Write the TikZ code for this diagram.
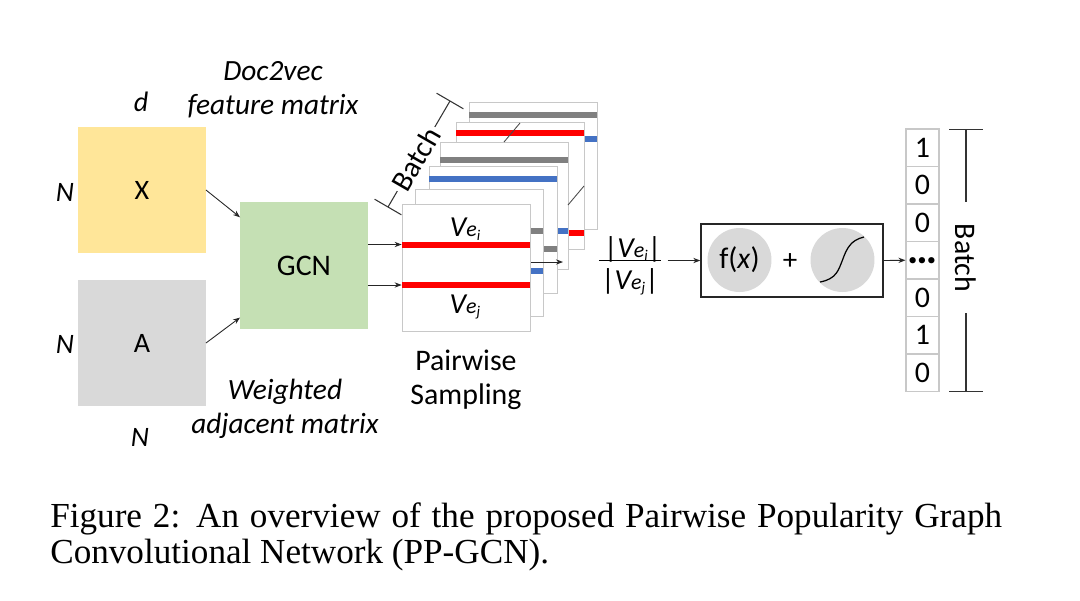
\documentclass[tikz,border=0pt]{standalone}
\usepackage{fontspec}
\setmainfont{Liberation Serif}
\setsansfont{Carlito}
\usetikzlibrary{positioning,arrows.meta,calc}

\definecolor{xfill}{HTML}{FFE699}
\definecolor{afill}{HTML}{D9D9D9}
\definecolor{gcnfill}{HTML}{C5E0B4}
\definecolor{barred}{HTML}{FF0000}
\definecolor{barblue}{HTML}{4472C4}
\definecolor{bargray}{HTML}{808080}
\definecolor{cardline}{HTML}{C8C8C8}

\newcommand\fs[1]{\fontsize{#1}{#1}\selectfont}
\newcommand\vsub[1]{\textit{V\fs{12.5}e\raisebox{-0.35ex}{\fs{8.5}#1}}}
\newcommand\celldots{\fs{24}\bfseries\symbol{"2026}}

\tikzset{
  x=0.02cm, y=-0.02cm,
  mat/.style={minimum width=2.56cm, minimum height=2.54cm, inner sep=0pt, outer sep=0pt, font=\sffamily\fs{16}},
  card/.style={draw=cardline, fill=white, line width=0.6pt, minimum width=2.56cm, minimum height=2.54cm, inner sep=0pt, anchor=north west},
  bar/.style={minimum width=2.56cm, minimum height=0.12cm, inner sep=0pt},
  lbl/.style={font=\sffamily\fs{16}, inner sep=0pt},
  ital/.style={font=\sffamily\itshape\fontsize{16.7}{19.3}\selectfont, align=center, inner sep=0pt},
  arr/.style={-{Stealth[length=4pt,width=3pt]}, line width=0.5pt, black!85},
  brk/.style={line width=0.6pt, black!80},
  ball/.style={circle, fill=afill, minimum size=1.28cm, inner sep=0pt},
  cell/.style={draw=cardline, line width=0.6pt, minimum width=0.66cm, minimum height=0.75cm, inner sep=0pt, font=\sffamily\fs{17}},
}

\begin{document}
\begin{tikzpicture}
\useasboundingbox[fill=white] (0,0) rectangle (1080,600);

% inputs
\node[mat, fill=xfill] (X) at (142,190) {X};
\node[mat, fill=afill] (A) at (142,343) {A};
\node[mat, fill=gcnfill, font=\sffamily\fs{17}] (GCN) at (304,265.5) {GCN};
\node[lbl, font=\sffamily\itshape\fs{16}] (nx) at (65,192) {N};
\node[lbl, font=\sffamily\itshape\fs{16}] (na) at (65,344) {N};
\node[lbl, font=\sffamily\itshape\fs{16}] (dx) at (141,102) {d};
\node[lbl, font=\sffamily\itshape\fs{16}] (nb) at (140,437) {N};
\node[ital] (doclbl) at (273,90) {Doc2vec\\feature matrix};
\node[ital] (adjlbl) at (285,408.5) {Weighted\\adjacent matrix};

\draw[arr] (X.east) -- ($(GCN.north west)!0.12!(GCN.south west)$);
\draw[arr] (A.east) -- ($(GCN.north west)!0.91!(GCN.south west)$);

% pairwise samples, back to front
\foreach \cx/\cy/\ca/\ya/\cb/\yb [count=\i] in {469/102/bargray/115/barblue/139,
    456/122/barred/133/barred/233, 440/142/bargray/160/barblue/231,
    429/166/barblue/179/bargray/249, 415/189/bargray/231/barblue/271}
{
  \node[card] (back\i) at (\cx,\cy) {};
  \fill[\ca] (\cx,\ya-3) rectangle +(128,6);
  \fill[\cb] (\cx,\yb-3) rectangle +(128,6);
}
\node[card] (front) at (402,204) {};
\node[bar, fill=barred] (vi) at (466,244.5) {};
\node[bar, fill=barred] (vj) at (466,285) {};
\node[lbl, font=\sffamily\fs{16.5}] (vilbl) at (465,229) {\vsub{i}};
\node[lbl, font=\sffamily\fs{16.5}] (vjlbl) at (465,307) {\vsub{j}};
\draw[black!70, line width=0.5pt] (520,123) -- (504,142);
\draw[black!70, line width=0.5pt] (584,186) -- (568,205);
\node[ital, font=\sffamily\fontsize{17}{19.3}\selectfont] (pslbl) at (466,380) {Pairwise\\Sampling};

\draw[arr] (GCN.east |- vi) -- (vi.west);
\draw[arr] (GCN.east |- vj) -- (vj.west);
\coordinate (pairout) at (563,262);
\draw[arr] (front.east |- pairout) -- (pairout);

% batch bracket on the samples
\coordinate (bl) at (388,207);
\coordinate (bt) at (450,101);
\draw[brk] (374.6,199.2) -- (401.4,214.8);
\draw[brk] (436.6,93.2) -- (463.4,108.8);
\draw[brk] (bl) -- ($(bl)!0.15!(bt)$);
\draw[brk] ($(bl)!0.755!(bt)$) -- (bt);
\node[lbl, font=\sffamily\fs{17}, rotate=60] (batchl) at ($(bl)!0.45!(bt)$) {Batch};

% ratio and classifier
\node[lbl, font=\sffamily\fs{16.5}] (ratio) at (630,267)
  {\begin{tabular}{@{}c@{}}\hspace{3pt}|\vsub{i}|\hspace{3pt}\\[-3pt]\hline\rule{0pt}{16pt}|\vsub{j}|\end{tabular}};
\node[draw=black!85, line width=0.8pt, minimum width=3.64cm, minimum height=1.46cm, inner sep=0pt] (fbox) at (792,260.5) {};
\node[ball, font=\sffamily\fs{17}] (fx) at (739.5,260) {f(\textit{x})};
\node[lbl, font=\sffamily\fs{16.5}] (plus) at (790,262) {+};
\node[ball] (sig) at (842.5,260) {};
\draw[line width=0.7pt] ([shift={(-22.5,22)}]sig.center) .. controls ([shift={(-6,19)}]sig.center) and ([shift={(-4,10)}]sig.center) .. (sig.center)
  .. controls ([shift={(4,-11)}]sig.center) and ([shift={(8,-20)}]sig.center) .. ([shift={(21.5,-23)}]sig.center);
\draw[arr] ($(ratio.east |- fbox.west)+(6,0)$) -- (fbox.west);

% output labels
\foreach \v [count=\k] in {1,0,0,\celldots,0,1,0}
  \node[cell] (c\k) at (922.5,{129+37.5*(\k-0.5)}) {\v};
\draw[arr] (fbox.east) -- (c4.west);

% batch bracket on the labels
\draw[brk] (949,129.5) -- (983,129.5);
\draw[brk] (949,391.5) -- (983,391.5);
\draw[brk] (966,129.5) -- (966,202);
\draw[brk] (966,313) -- (966,391.5);
\node[lbl, font=\sffamily\fs{17}, rotate=-90] (batchr) at (966,258) {Batch};

% caption
\node[anchor=base west, inner sep=0pt, font=\fs{20}] (cap1) at (50,527)
  {\makebox[19.04cm][s]{Figure 2: An overview of the proposed Pairwise Popularity Graph}};
\node[anchor=base west, inner sep=0pt, font=\fs{20}] (cap2) at (50,563) {Convolutional Network (PP-GCN).};
\end{tikzpicture}
\end{document}
